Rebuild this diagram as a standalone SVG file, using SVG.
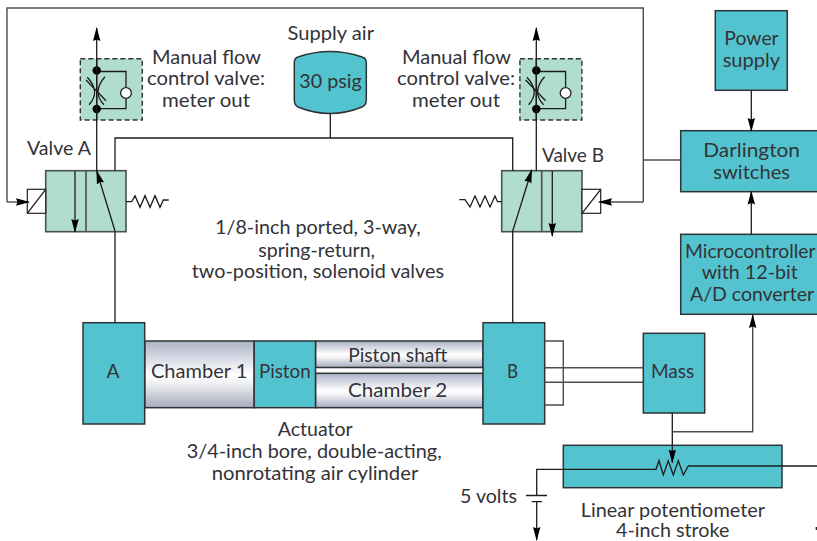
<svg xmlns="http://www.w3.org/2000/svg" width="817" height="541" viewBox="0 0 817 541">
<style>
text{font-family:Lato,"Open Sans","Liberation Sans",sans-serif;font-size:20px;fill:#333338}
.box{fill:#53c4cf;stroke:#2f3336;stroke-width:1.5}
.valve{fill:#b1ddd0;stroke:#4a4f4f;stroke-width:1.6}
.w{fill:none;stroke:#1c1c1c;stroke-width:1.3}
.g{fill:none;stroke:#4d4d4d;stroke-width:1.4}
.a{marker-end:url(#arr)}
.ch{fill:url(#metal);stroke:#2f3336;stroke-width:1.5}
</style>
<defs>
<marker id="arr" markerUnits="userSpaceOnUse" markerWidth="14" markerHeight="8" viewBox="0 0 14 8" refX="13" refY="4" orient="auto"><path d="M0,0.3L14,4L0,7.7L1.5,4Z" fill="#000"/></marker>
<linearGradient id="metal" x1="0" y1="0" x2="0" y2="1"><stop offset="0" stop-color="#acb2c7"/><stop offset="0.5" stop-color="#ffffff"/><stop offset="0.62" stop-color="#f2f3f5"/><stop offset="1" stop-color="#a6aabd"/></linearGradient>
<g id="flow">
<rect x="80.3" y="58.7" width="62" height="61.3" fill="#b1ddd0" stroke="#333" stroke-width="1.4" stroke-dasharray="5 3"/>
<path class="w" d="M96.7,71.5H126V108.7H96.7"/>
<circle cx="126" cy="93" r="5.4" fill="#fff" stroke="#222" stroke-width="1.3"/>
<path class="w" d="M87.3,77.3Q101,92 89,104.7M105,76.7Q91.5,92 104,104.7M86,80L106,100.7"/>
<path class="w" d="M96.7,58V120"/>
<circle cx="96.7" cy="70.5" r="4.2" fill="#000"/>
<circle cx="96.7" cy="109" r="4.2" fill="#000"/>
</g>
</defs>
<rect width="817" height="541" fill="#fff"/>

<g id="flow-valve-a"><use href="#flow"/>
<text x="152" y="63.5" textLength="109" lengthAdjust="spacingAndGlyphs">Manual flow</text>
<text x="147" y="85" textLength="118" lengthAdjust="spacingAndGlyphs">control valve:</text>
<text x="162" y="106.7" textLength="88" lengthAdjust="spacingAndGlyphs">meter out</text>
</g>
<g id="flow-valve-b"><use href="#flow" x="439.6"/>
<text x="402" y="63.5" textLength="109" lengthAdjust="spacingAndGlyphs">Manual flow</text>
<text x="397" y="85" textLength="118" lengthAdjust="spacingAndGlyphs">control valve:</text>
<text x="412" y="106.7" textLength="88" lengthAdjust="spacingAndGlyphs">meter out</text>
</g>

<g id="supply-air">
<text x="287.5" y="40" textLength="86.5" lengthAdjust="spacingAndGlyphs">Supply air</text>
<path class="box" d="M294.3,63Q294.3,58 298,57Q330,46 362,57Q366.3,58 366.3,63V100Q366.3,105 362,107Q330,120 298,107Q294.3,105 294.3,100Z"/>
<text x="299.3" y="88" textLength="62.5" lengthAdjust="spacingAndGlyphs">30 psig</text>
</g>

<g id="valve-a">
<text x="27" y="154.7" textLength="64" lengthAdjust="spacingAndGlyphs">Valve A</text>
<rect class="valve" x="45.7" y="170.7" width="80.3" height="61"/>
<path class="valve" d="M86,171V231"/>
<path class="w a" d="M75,171V232"/>
<path class="w a" d="M115,231L96.7,171"/>
<rect x="27.3" y="189.3" width="18.4" height="24" fill="#fff" stroke="#222" stroke-width="1.2"/>
<path class="w" d="M27.3,213.3L45.7,189.3"/>
<path class="w" d="M126,201.7H131.7L135,195.7L140,207.3L145,195.7L150,207.3L155,195.7L160,207.3L163.3,200H168.7"/>
</g>
<g id="valve-b">
<text x="542" y="162.3" textLength="62" lengthAdjust="spacingAndGlyphs">Valve B</text>
<rect class="valve" x="501.7" y="170.7" width="80.3" height="61"/>
<path class="valve" d="M541.7,171V231"/>
<path class="w a" d="M552.3,171V236"/>
<path class="w a" d="M512.7,231L531.7,170"/>
<rect x="582" y="189.3" width="18.7" height="24" fill="#fff" stroke="#222" stroke-width="1.2"/>
<path class="w" d="M582,213.3L600.7,189.3"/>
<path class="w" d="M459.3,199.7H465L470,207L475,196L480,207L485,196L490,207L495,196L497.5,201.7H501.7"/>
</g>

<g id="valves-label">
<text x="215" y="234" textLength="205.7" lengthAdjust="spacingAndGlyphs">1/8-inch ported, 3-way,</text>
<text x="258.3" y="256.7" textLength="116.7" lengthAdjust="spacingAndGlyphs">spring-return,</text>
<text x="191.7" y="278.3" textLength="252.3" lengthAdjust="spacingAndGlyphs">two-position, solenoid valves</text>
</g>

<g id="chamber-1"><rect class="ch" x="144.7" y="341" width="109.5" height="66.7"/>
<text x="151" y="378" textLength="96.3" lengthAdjust="spacingAndGlyphs">Chamber 1</text></g>
<g id="piston-shaft"><rect class="ch" x="315.5" y="341" width="167.5" height="26.5"/>
<text x="348.3" y="362.3" textLength="99" lengthAdjust="spacingAndGlyphs">Piston shaft</text></g>
<g id="chamber-2"><rect class="ch" x="315.5" y="373.3" width="167.5" height="34.4"/>
<text x="348" y="396.7" textLength="99.3" lengthAdjust="spacingAndGlyphs">Chamber 2</text></g>
<g id="piston"><rect class="box" x="254.2" y="341" width="61.3" height="66.7"/>
<text x="259" y="378" textLength="51.7" lengthAdjust="spacingAndGlyphs">Piston</text></g>
<g id="port-a"><rect class="box" x="83" y="322.7" width="61.7" height="101.3"/>
<text x="106.5" y="378" textLength="13" lengthAdjust="spacingAndGlyphs">A</text></g>
<g id="port-b"><rect class="box" x="483" y="322.7" width="61.7" height="101.3"/>
<text x="507" y="378" textLength="11" lengthAdjust="spacingAndGlyphs">B</text></g>

<g id="actuator-label">
<text x="277.7" y="436" textLength="75" lengthAdjust="spacingAndGlyphs">Actuator</text>
<text x="186.7" y="458.3" textLength="255" lengthAdjust="spacingAndGlyphs">3/4-inch bore, double-acting,</text>
<text x="211.7" y="480" textLength="206.6" lengthAdjust="spacingAndGlyphs">nonrotating air cylinder</text>
</g>

<g id="mass"><rect class="box" x="643.3" y="333.3" width="61.4" height="79.7"/>
<text x="651" y="378" textLength="43.3" lengthAdjust="spacingAndGlyphs">Mass</text></g>

<g id="potentiometer">
<rect class="box" x="563.3" y="445.3" width="218.7" height="42.4"/>
<text x="580.7" y="516.7" textLength="184.3" lengthAdjust="spacingAndGlyphs">Linear potentiometer</text>
<text x="616" y="537" textLength="113.3" lengthAdjust="spacingAndGlyphs">4-inch stroke</text>
</g>
<g id="volts"><text x="460" y="503" textLength="57" lengthAdjust="spacingAndGlyphs">5 volts</text></g>

<g id="power-supply"><rect class="box" x="715.3" y="10.7" width="72" height="79.6"/>
<text x="724.3" y="44.7" textLength="54.4" lengthAdjust="spacingAndGlyphs">Power</text>
<text x="722.7" y="66.7" textLength="57.3" lengthAdjust="spacingAndGlyphs">supply</text></g>
<g id="darlington"><rect class="box" x="680.7" y="130.7" width="140" height="61"/>
<text x="703.3" y="156.7" textLength="96.7" lengthAdjust="spacingAndGlyphs">Darlington</text>
<text x="713.3" y="179" textLength="76.7" lengthAdjust="spacingAndGlyphs">switches</text></g>
<g id="microcontroller"><rect class="box" x="680.7" y="234.3" width="140" height="80"/>
<text x="685" y="258.3" textLength="130.5" lengthAdjust="spacingAndGlyphs">Microcontroller</text>
<text x="701.7" y="279.3" textLength="96" lengthAdjust="spacingAndGlyphs">with 12-bit</text>
<text x="690" y="300.7" textLength="124" lengthAdjust="spacingAndGlyphs">A/D converter</text></g>

<g id="connectors">
<path class="g a" d="M7,202H29"/>
<path class="g a" d="M643.3,202H599"/>
<path class="g" d="M7,202V8H643.3V202"/>
<path class="g" d="M643.3,160H681"/>
<path class="w a" d="M96.7,171V28"/>
<path class="w a" d="M536.3,171V28"/>
<path class="w" d="M115,171V138H512.7V171"/>
<path class="w" d="M330.3,113V138"/>
<path class="w" d="M115,231V323"/>
<path class="w" d="M512.7,231V323"/>
<path class="g" d="M544.7,341H563.3V405H544.7"/>
<path class="g" d="M544.7,367.7H643.3M544.7,382.3H643.3"/>
<path class="w a" d="M672.3,413V462.5"/>
<path class="g a" d="M672.3,431.7H752.7V315"/>
<path class="w a" d="M751.3,90.3V131"/>
<path class="w a" d="M751.3,234.3V191.5"/>
<path class="w" d="M536.7,495V469.3H656L659,460.7L663.3,475L668.3,460.7L673.3,475L678.3,460.7L683.3,475L688.3,466H817"/>
<path class="w" d="M526,495.5H547M531.7,501.7H542"/>
<path class="w a" d="M536.7,502V540"/>
<path class="w" d="M816.3,527V530"/>
</g>
</svg>
